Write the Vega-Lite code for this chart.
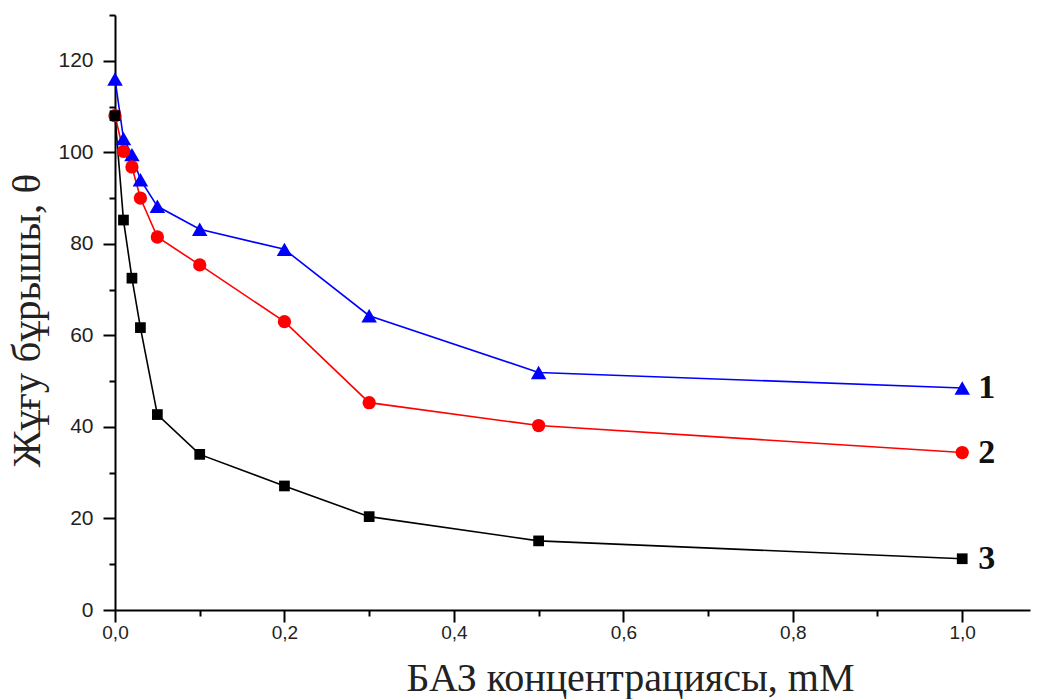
{
  "$schema": "https://vega.github.io/schema/vega-lite/v6.json",
  "width": 915,
  "height": 595,
  "autosize": {"type": "none"},
  "padding": {"left": 115, "top": 15, "right": 11, "bottom": 89},
  "background": "white",
  "config": {"view": {"stroke": null}},
  "datasets": {
    "curves": [
      {"series": "1", "x": 0, "y": 116},
      {"series": "1", "x": 0.01, "y": 103},
      {"series": "1", "x": 0.02, "y": 99.5},
      {"series": "1", "x": 0.03, "y": 94},
      {"series": "1", "x": 0.05, "y": 88.2},
      {"series": "1", "x": 0.1, "y": 83.2},
      {"series": "1", "x": 0.2, "y": 78.8},
      {"series": "1", "x": 0.3, "y": 64.3},
      {"series": "1", "x": 0.5, "y": 51.9},
      {"series": "1", "x": 1.0, "y": 48.5},
      {"series": "2", "x": 0, "y": 108},
      {"series": "2", "x": 0.01, "y": 100.2},
      {"series": "2", "x": 0.02, "y": 96.8},
      {"series": "2", "x": 0.03, "y": 90},
      {"series": "2", "x": 0.05, "y": 81.5},
      {"series": "2", "x": 0.1, "y": 75.4},
      {"series": "2", "x": 0.2, "y": 63},
      {"series": "2", "x": 0.3, "y": 45.3},
      {"series": "2", "x": 0.5, "y": 40.3},
      {"series": "2", "x": 1.0, "y": 34.4},
      {"series": "3", "x": 0, "y": 108},
      {"series": "3", "x": 0.01, "y": 85.2},
      {"series": "3", "x": 0.02, "y": 72.5},
      {"series": "3", "x": 0.03, "y": 61.7},
      {"series": "3", "x": 0.05, "y": 42.7},
      {"series": "3", "x": 0.1, "y": 34},
      {"series": "3", "x": 0.2, "y": 27.1},
      {"series": "3", "x": 0.3, "y": 20.4},
      {"series": "3", "x": 0.5, "y": 15.1},
      {"series": "3", "x": 1.0, "y": 11.2}
    ],
    "labels": [
      {"label": "1", "x": 1.0, "y": 48.5},
      {"label": "2", "x": 1.0, "y": 34.4},
      {"label": "3", "x": 1.0, "y": 11.2}
    ]
  },
  "encoding": {
    "x": {
      "field": "x", "type": "quantitative",
      "scale": {"domain": [0, 1.08], "nice": false, "zero": false},
      "axis": {
        "title": "БАЗ концентрациясы, mM",
        "titleFont": "Liberation Serif", "titleFontSize": 40, "titleFontWeight": "normal", "titleColor": "#222222",
        "titleBaseline": "alphabetic", "titleAnchor": "middle", "titleX": 515, "titleY": 80,
        "values": [0, 0.1, 0.2, 0.3, 0.4, 0.5, 0.6, 0.7, 0.8, 0.9, 1.0],
        "labelExpr": "round(datum.value*10) % 2 === 0 ? replace(format(datum.value, '.1f'), '.', ',') : ''",
        "labelFont": "Liberation Sans", "labelFontSize": 19, "labelColor": "#222222", "labelFlush": false,
        "labelPadding": 1,
        "tickSize": {"condition": {"test": "round(datum.value*10) % 2 === 0", "value": 12}, "value": 6},
        "tickWidth": 2, "tickColor": "black",
        "domainColor": "black", "domainWidth": 2,
        "grid": false
      }
    },
    "y": {
      "field": "y", "type": "quantitative",
      "scale": {"domain": [0, 130], "nice": false, "zero": false},
      "axis": {
        "title": "Жұғу бұрышы, θ",
        "titleFont": "Liberation Serif", "titleFontSize": 41, "titleFontWeight": "normal", "titleColor": "#222222",
        "titleBaseline": "alphabetic", "titleAnchor": "middle", "titleX": -76, "titleY": 305, "titleAngle": -90,
        "values": [0, 10, 20, 30, 40, 50, 60, 70, 80, 90, 100, 110, 120, 130],
        "labelExpr": "datum.value % 20 === 0 ? datum.label : ''",
        "labelFont": "Liberation Sans", "labelFontSize": 21, "labelColor": "#222222",
        "labelPadding": 10,
        "tickSize": {"condition": {"test": "datum.value % 20 === 0", "value": 12}, "value": 6},
        "tickWidth": 2, "tickColor": "black",
        "domainColor": "black", "domainWidth": 2,
        "grid": false
      }
    }
  },
  "layer": [
    {
      "data": {"name": "curves"},
      "mark": {"type": "line"},
      "encoding": {
        "color": {
          "field": "series", "type": "nominal",
          "scale": {"domain": ["1", "2", "3"], "range": ["#0000ff", "#ff0000", "#000000"]},
          "legend": null
        },
        "strokeWidth": {
          "field": "series", "type": "ordinal",
          "scale": {"domain": ["1", "2", "3"], "range": [1.6, 1.6, 2]},
          "legend": null
        }
      }
    },
    {
      "data": {"name": "curves"},
      "mark": {"type": "point", "filled": true, "opacity": 1},
      "encoding": {
        "color": {
          "field": "series", "type": "nominal",
          "scale": {"domain": ["1", "2", "3"], "range": ["#0000ff", "#ff0000", "#000000"]},
          "legend": null
        },
        "shape": {
          "field": "series", "type": "nominal",
          "scale": {"domain": ["1", "2", "3"], "range": ["triangle-up", "circle", "square"]},
          "legend": null
        },
        "size": {
          "field": "series", "type": "ordinal",
          "scale": {"domain": ["1", "2", "3"], "range": [240, 115, 120]},
          "legend": null
        }
      }
    },
    {
      "data": {"name": "labels"},
      "mark": {"type": "text", "align": "left", "baseline": "middle", "dx": 16, "font": "Liberation Serif", "fontSize": 34, "fontWeight": "bold", "color": "#111111"},
      "encoding": {
        "text": {"field": "label"}
      }
    }
  ]
}
